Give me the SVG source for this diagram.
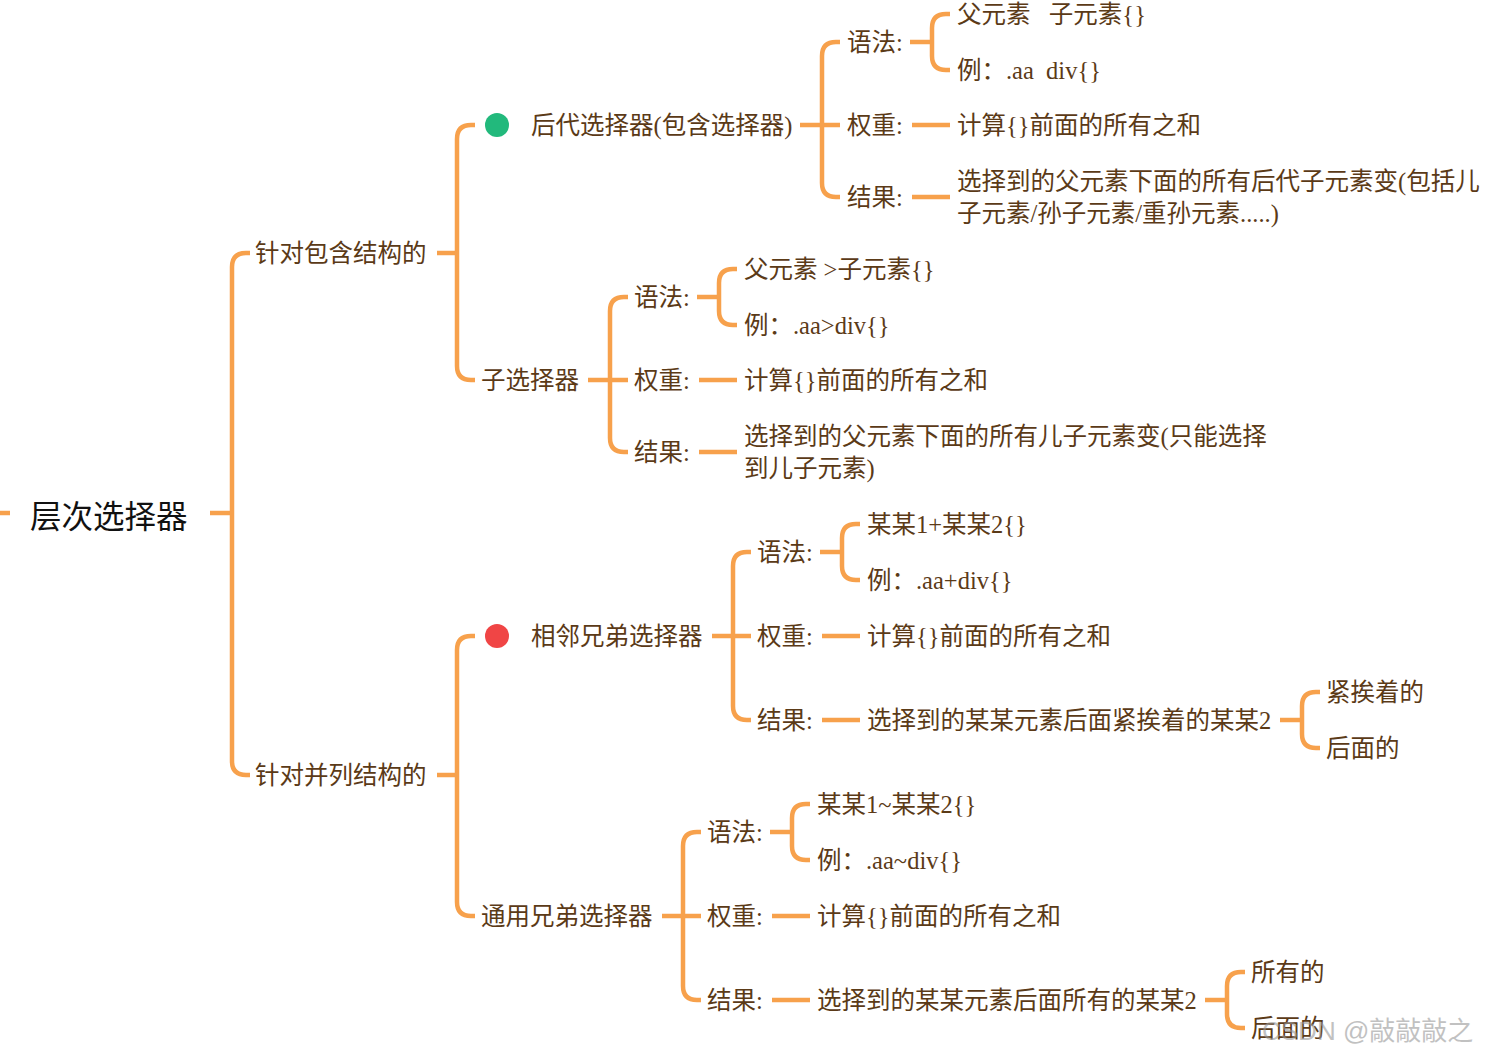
<svg xmlns="http://www.w3.org/2000/svg" width="1487" height="1058" viewBox="0 0 1487 1058">
<style>
.t{font-family:"Liberation Serif","Noto Sans CJK SC",serif;font-size:24.5px;fill:#5b3a17;dominant-baseline:central}
.root{font-family:"Noto Sans CJK SC","Liberation Sans",sans-serif;font-size:31.5px;fill:#111;dominant-baseline:central}
.ln{fill:none;stroke:#f7a14c;stroke-width:4.5;stroke-linecap:butt}
.wm{font-family:"Liberation Sans","Noto Sans CJK SC",sans-serif;font-size:26px;fill:#999;opacity:0.6;dominant-baseline:central}
</style>
<rect width="1487" height="1058" fill="#fff"/>
<g id="connectors">
<path class="ln" d="M0 513H10"/>
<path class="ln" d="M210 513H232"/>
<path class="ln" d="M250 253H246Q232 253 232 267V761Q232 775 246 775H250"/>
<path class="ln" d="M437 253H457"/>
<path class="ln" d="M475 125H471Q457 125 457 139V366Q457 380 471 380H475"/>
<path class="ln" d="M800 125H840"/>
<path class="ln" d="M840 42H836Q822 42 822 56V183Q822 197 836 197H840"/>
<path class="ln" d="M910 42H932"/>
<path class="ln" d="M950 14H946Q932 14 932 28V56Q932 70 946 70H950"/>
<path class="ln" d="M912 125H950"/>
<path class="ln" d="M912 197H950"/>
<path class="ln" d="M588 380H628"/>
<path class="ln" d="M628 297H624Q610 297 610 311V438Q610 452 624 452H628"/>
<path class="ln" d="M697 297H719"/>
<path class="ln" d="M737 269H733Q719 269 719 283V311Q719 325 733 325H737"/>
<path class="ln" d="M699 380H737"/>
<path class="ln" d="M699 452H737"/>
<path class="ln" d="M437 775H457"/>
<path class="ln" d="M475 636H471Q457 636 457 650V902Q457 916 471 916H475"/>
<path class="ln" d="M712 636H751"/>
<path class="ln" d="M751 552H747Q733 552 733 566V706Q733 720 747 720H751"/>
<path class="ln" d="M820 552H842"/>
<path class="ln" d="M860 524H856Q842 524 842 538V566Q842 580 856 580H860"/>
<path class="ln" d="M822 636H860"/>
<path class="ln" d="M822 720H860"/>
<path class="ln" d="M1280 720H1302"/>
<path class="ln" d="M1320 692H1316Q1302 692 1302 706V734Q1302 748 1316 748H1320"/>
<path class="ln" d="M662 916H701"/>
<path class="ln" d="M701 832H697Q683 832 683 846V986Q683 1000 697 1000H701"/>
<path class="ln" d="M770 832H792"/>
<path class="ln" d="M810 804H806Q792 804 792 818V846Q792 860 806 860H810"/>
<path class="ln" d="M772 916H810"/>
<path class="ln" d="M772 1000H810"/>
<path class="ln" d="M1205 1000H1227"/>
<path class="ln" d="M1245 972H1241Q1227 972 1227 986V1014Q1227 1028 1241 1028H1245"/>
</g>
<g id="root"><text class="root" x="30" y="514">层次选择器</text></g>
<g id="n-baohan"><text class="t" x="255" y="253">针对包含结构的</text></g>
<g id="n-houdai"><circle cx="497" cy="125" r="12" fill="#22b97c"/><text class="t" x="531" y="125">后代选择器(包含选择器)</text></g>
<g id="n-hd-yufa"><text class="t" x="847" y="42">语法:</text></g>
<g id="n-hd-yufa1"><text class="t" x="957" y="14" xml:space="preserve">父元素   子元素{}</text></g>
<g id="n-hd-yufa2"><text class="t" x="957" y="70" xml:space="preserve">例：.aa  div{}</text></g>
<g id="n-hd-quanzhong"><text class="t" x="847" y="125">权重:</text></g>
<g id="n-hd-qz1"><text class="t" x="957" y="125">计算{}前面的所有之和</text></g>
<g id="n-hd-jieguo"><text class="t" x="847" y="197">结果:</text></g>
<g id="n-hd-jg1"><text class="t" x="957" y="181">选择到的父元素下面的所有后代子元素变(包括儿</text><text class="t" x="957" y="213">子元素/孙子元素/重孙元素.....)</text></g>
<g id="n-zi"><text class="t" x="481" y="380">子选择器</text></g>
<g id="n-zi-yufa"><text class="t" x="634" y="297">语法:</text></g>
<g id="n-zi-yufa1"><text class="t" x="744" y="269">父元素 &gt;子元素{}</text></g>
<g id="n-zi-yufa2"><text class="t" x="744" y="325">例：.aa&gt;div{}</text></g>
<g id="n-zi-quanzhong"><text class="t" x="634" y="380">权重:</text></g>
<g id="n-zi-qz1"><text class="t" x="744" y="380">计算{}前面的所有之和</text></g>
<g id="n-zi-jieguo"><text class="t" x="634" y="452">结果:</text></g>
<g id="n-zi-jg1"><text class="t" x="744" y="436">选择到的父元素下面的所有儿子元素变(只能选择</text><text class="t" x="744" y="468">到儿子元素)</text></g>
<g id="n-binglie"><text class="t" x="255" y="775">针对并列结构的</text></g>
<g id="n-xianglin"><circle cx="497" cy="636" r="12" fill="#f04545"/><text class="t" x="531" y="636">相邻兄弟选择器</text></g>
<g id="n-xl-yufa"><text class="t" x="757" y="552">语法:</text></g>
<g id="n-xl-yufa1"><text class="t" x="867" y="524">某某1+某某2{}</text></g>
<g id="n-xl-yufa2"><text class="t" x="867" y="580">例：.aa+div{}</text></g>
<g id="n-xl-quanzhong"><text class="t" x="757" y="636">权重:</text></g>
<g id="n-xl-qz1"><text class="t" x="867" y="636">计算{}前面的所有之和</text></g>
<g id="n-xl-jieguo"><text class="t" x="757" y="720">结果:</text></g>
<g id="n-xl-jg1"><text class="t" x="867" y="720">选择到的某某元素后面紧挨着的某某2</text></g>
<g id="n-xl-jg2"><text class="t" x="1326" y="692">紧挨着的</text></g>
<g id="n-xl-jg3"><text class="t" x="1326" y="748">后面的</text></g>
<g id="n-tongyong"><text class="t" x="481" y="916">通用兄弟选择器</text></g>
<g id="n-ty-yufa"><text class="t" x="707" y="832">语法:</text></g>
<g id="n-ty-yufa1"><text class="t" x="817" y="804">某某1~某某2{}</text></g>
<g id="n-ty-yufa2"><text class="t" x="817" y="860">例：.aa~div{}</text></g>
<g id="n-ty-quanzhong"><text class="t" x="707" y="916">权重:</text></g>
<g id="n-ty-qz1"><text class="t" x="817" y="916">计算{}前面的所有之和</text></g>
<g id="n-ty-jieguo"><text class="t" x="707" y="1000">结果:</text></g>
<g id="n-ty-jg1"><text class="t" x="817" y="1000">选择到的某某元素后面所有的某某2</text></g>
<g id="n-ty-jg2"><text class="t" x="1251" y="972">所有的</text></g>
<g id="n-ty-jg3"><text class="t" x="1251" y="1028">后面的</text></g>
<text class="wm" x="1262" y="1031">CSDN @敲敲敲之</text>
</svg>
